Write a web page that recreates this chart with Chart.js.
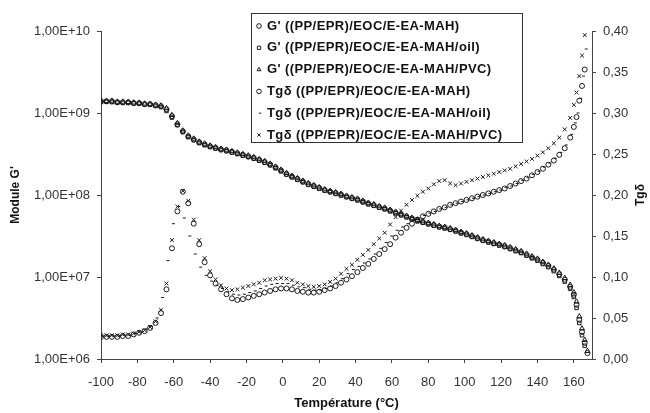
<!DOCTYPE html>
<html>
<head>
<meta charset="utf-8">
<script src="https://cdn.jsdelivr.net/npm/chart.js@4.4.0/dist/chart.umd.min.js"></script>
<style>
  html, body { margin: 0; padding: 0; background: #fff; }
  #wrap { width: 650px; height: 413px; }
</style>
</head>
<body>
<div id="wrap"><canvas id="dma" width="650" height="413"></canvas></div>
<script>
// temperature (°C) of each measurement point
const temps = [
  -100, -97, -94, -91, -88, -85, -82, -79, -76, -73,
  -70, -67, -64, -61, -58, -55, -52, -49, -46, -43,
  -40, -37, -34, -31, -28, -25, -22, -19, -16, -13,
  -10, -7, -4, -1, 2, 5, 8, 11, 14, 17,
  20, 23, 26, 29, 32, 35, 38, 41, 44, 47,
  50, 53, 56, 59, 62, 65, 68, 71, 74, 77,
  80, 83, 86, 89, 92, 95, 98, 101, 104, 107,
  110, 113, 116, 119, 122, 125, 128, 131, 134, 137,
  140, 143, 146, 149, 152, 155, 158, 160, 161.5, 163,
  164.5, 166, 167.5
];

// storage modulus G' (Pa), left log axis
const gPP = [
  1.39e9, 1.39e9, 1.39e9, 1.35e9, 1.35e9, 1.35e9, 1.32e9, 1.32e9, 1.28e9, 1.28e9,
  1.24e9, 1.21e9, 1.11e9, 9.13e8, 7.29e8, 5.98e8, 5.19e8, 4.77e8, 4.39e8, 4.15e8,
  3.92e8, 3.76e8, 3.60e8, 3.50e8, 3.36e8, 3.22e8, 3.09e8, 2.96e8, 2.84e8, 2.68e8,
  2.53e8, 2.36e8, 2.17e8, 1.99e8, 1.81e8, 1.68e8, 1.57e8, 1.46e8, 1.36e8, 1.29e8,
  1.22e8, 1.15e8, 1.10e8, 1.06e8, 1.01e8, 9.59e7, 9.19e7, 8.81e7, 8.33e7, 7.87e7,
  7.55e7, 7.13e7, 6.84e7, 6.46e7, 6.11e7, 5.78e7, 5.46e7, 5.16e7, 4.88e7, 4.68e7,
  4.48e7, 4.30e7, 4.12e7, 4.00e7, 3.84e7, 3.68e7, 3.48e7, 3.33e7, 3.15e7, 2.98e7,
  2.82e7, 2.70e7, 2.59e7, 2.48e7, 2.38e7, 2.25e7, 2.12e7, 2.01e7, 1.87e7, 1.74e7,
  1.63e7, 1.49e7, 1.37e7, 1.23e7, 1.08e7, 9.26e6, 7.60e6, 6.07e6, 4.58e6, 3.00e6,
  2.14e6, 1.57e6, 1.18e6
];
const gOil = [
  1.36e9, 1.37e9, 1.36e9, 1.34e9, 1.33e9, 1.33e9, 1.31e9, 1.30e9, 1.27e9, 1.26e9,
  1.22e9, 1.18e9, 1.06e9, 8.80e8, 7.10e8, 5.85e8, 5.08e8, 4.66e8, 4.30e8, 4.05e8,
  3.85e8, 3.68e8, 3.53e8, 3.42e8, 3.29e8, 3.16e8, 3.02e8, 2.90e8, 2.77e8, 2.62e8,
  2.47e8, 2.30e8, 2.12e8, 1.94e8, 1.77e8, 1.64e8, 1.53e8, 1.43e8, 1.33e8, 1.26e8,
  1.19e8, 1.13e8, 1.08e8, 1.03e8, 9.85e7, 9.40e7, 8.98e7, 8.60e7, 8.14e7, 7.70e7,
  7.38e7, 6.98e7, 6.69e7, 6.32e7, 5.98e7, 5.65e7, 5.34e7, 5.05e7, 4.78e7, 4.58e7,
  4.39e7, 4.21e7, 4.03e7, 3.91e7, 3.76e7, 3.60e7, 3.40e7, 3.26e7, 3.08e7, 2.92e7,
  2.76e7, 2.64e7, 2.53e7, 2.42e7, 2.32e7, 2.19e7, 2.07e7, 1.96e7, 1.82e7, 1.69e7,
  1.58e7, 1.44e7, 1.32e7, 1.18e7, 1.03e7, 8.80e6, 7.20e6, 5.70e6, 4.20e6, 2.75e6,
  1.95e6, 1.45e6, null
];
const gPVC = [
  1.41e9, 1.40e9, 1.41e9, 1.37e9, 1.37e9, 1.36e9, 1.34e9, 1.33e9, 1.30e9, 1.29e9,
  1.26e9, 1.23e9, 1.14e9, 9.40e8, 7.50e8, 6.10e8, 5.28e8, 4.86e8, 4.47e8, 4.22e8,
  3.99e8, 3.83e8, 3.66e8, 3.56e8, 3.42e8, 3.28e8, 3.15e8, 3.02e8, 2.89e8, 2.73e8,
  2.58e8, 2.40e8, 2.21e8, 2.03e8, 1.85e8, 1.71e8, 1.60e8, 1.49e8, 1.39e8, 1.31e8,
  1.24e8, 1.17e8, 1.12e8, 1.08e8, 1.03e8, 9.78e7, 9.37e7, 8.99e7, 8.50e7, 8.03e7,
  7.70e7, 7.27e7, 6.98e7, 6.59e7, 6.23e7, 5.90e7, 5.57e7, 5.26e7, 4.98e7, 4.77e7,
  4.57e7, 4.39e7, 4.20e7, 4.08e7, 3.92e7, 3.75e7, 3.55e7, 3.40e7, 3.21e7, 3.04e7,
  2.88e7, 2.75e7, 2.64e7, 2.53e7, 2.43e7, 2.30e7, 2.17e7, 2.06e7, 1.92e7, 1.78e7,
  1.67e7, 1.53e7, 1.41e7, 1.27e7, 1.12e7, 9.70e6, 8.00e6, 6.50e6, 5.00e6, 3.30e6,
  2.35e6, 1.70e6, 1.25e6
];

// loss factor tan delta, right axis
const tanPP = [
  0.027, 0.027, 0.027, 0.027, 0.028, 0.028, 0.030, 0.032, 0.034, 0.038,
  0.044, 0.056, 0.085, 0.135, 0.180, 0.204, 0.190, 0.165, 0.140, 0.118,
  0.102, 0.092, 0.085, 0.079, 0.074, 0.072, 0.073, 0.075, 0.077, 0.079,
  0.081, 0.083, 0.085, 0.086, 0.086, 0.085, 0.083, 0.082, 0.081, 0.081,
  0.082, 0.084, 0.086, 0.089, 0.093, 0.097, 0.101, 0.106, 0.111, 0.116,
  0.122, 0.128, 0.134, 0.140, 0.148, 0.154, 0.160, 0.165, 0.170, 0.174,
  0.177, 0.180, 0.183, 0.185, 0.188, 0.190, 0.192, 0.194, 0.196, 0.198,
  0.200, 0.202, 0.204, 0.206, 0.208, 0.211, 0.214, 0.217, 0.220, 0.224,
  0.228, 0.232, 0.237, 0.242, 0.249, 0.257, 0.270, 0.283, 0.295, 0.315,
  0.333, 0.353, null
];
const tanOil = [
  0.028, 0.028, 0.028, 0.028, 0.029, 0.029, 0.031, 0.033, 0.036, 0.040,
  0.050, 0.075, 0.120, 0.165, 0.186, 0.172, 0.150, 0.128, 0.112, 0.102,
  0.095, 0.090, 0.086, 0.082, 0.079, 0.078, 0.079, 0.081, 0.083, 0.086,
  0.089, 0.091, 0.092, 0.092, 0.092, 0.090, 0.088, 0.087, 0.085, 0.084,
  0.084, 0.086, 0.089, 0.093, 0.098, 0.104, 0.109, 0.113, 0.117, 0.122,
  0.128, 0.135, 0.142, 0.150, 0.157, 0.161, 0.165, 0.169, 0.172, 0.175,
  0.178, 0.180, 0.183, 0.185, 0.188, 0.190, 0.192, 0.194, 0.196, 0.198,
  0.200, 0.202, 0.204, 0.206, 0.209, 0.211, 0.214, 0.218, 0.221, 0.225,
  0.229, 0.234, 0.239, 0.245, 0.252, 0.261, 0.274, 0.288, 0.300, 0.318,
  0.345, 0.378, null
];
const tanPVC = [
  0.029, 0.029, 0.029, 0.029, 0.030, 0.030, 0.031, 0.033, 0.035, 0.039,
  0.046, 0.060, 0.092, 0.145, 0.186, 0.205, 0.193, 0.170, 0.145, 0.123,
  0.107, 0.097, 0.090, 0.086, 0.084, 0.085, 0.087, 0.089, 0.091, 0.093,
  0.096, 0.097, 0.098, 0.099, 0.098, 0.096, 0.093, 0.091, 0.089, 0.088,
  0.089, 0.091, 0.094, 0.098, 0.104, 0.110, 0.115, 0.121, 0.127, 0.133,
  0.140, 0.147, 0.154, 0.164, 0.173, 0.181, 0.188, 0.194, 0.199, 0.204,
  0.208, 0.213, 0.217, 0.218, 0.214, 0.212, 0.214, 0.216, 0.218, 0.220,
  0.222, 0.224, 0.226, 0.228, 0.230, 0.232, 0.235, 0.238, 0.241, 0.244,
  0.248, 0.252, 0.257, 0.263, 0.270, 0.280, 0.294, 0.310, 0.325, 0.345,
  0.370, 0.395, null
];

const seriesLabels = [
  "G' ((PP/EPR)/EOC/E-EA-MAH)",
  "G' ((PP/EPR)/EOC/E-EA-MAH/oil)",
  "G' ((PP/EPR)/EOC/E-EA-MAH/PVC)",
  "Tgδ ((PP/EPR)/EOC/E-EA-MAH)",
  "Tgδ ((PP/EPR)/EOC/E-EA-MAH/oil)",
  "Tgδ ((PP/EPR)/EOC/E-EA-MAH/PVC)"
];
const tempTicks = [-100, -80, -60, -40, -20, 0, 20, 40, 60, 80, 100, 120, 140, 160];
const gTicks = [1e6, 1e7, 1e8, 1e9, 1e10];
const tanTicks = [0, 0.05, 0.10, 0.15, 0.20, 0.25, 0.30, 0.35, 0.40];

const FONT = '"Liberation Sans", Arial, sans-serif';
const INK = '#1a1a1a';

function points(values) {
  return temps.map((t, i) => ({ x: t, y: values[i] })).filter(p => p.y != null);
}

function series(label, values, axis, style, radius) {
  return {
    label: label,
    data: points(values),
    yAxisID: axis,
    pointStyle: style,
    pointRadius: radius,
    pointBorderWidth: 1,
    pointBorderColor: INK,
    pointBackgroundColor: 'rgba(0,0,0,0)',
    showLine: false
  };
}

// Excel-like legend box sitting over the top of the plot
const legendBox = {
  id: 'legendBox',
  afterDraw(chart) {
    const ctx = chart.ctx;
    ctx.save();
    ctx.fillStyle = '#fff';
    ctx.fillRect(251, 13, 271, 129);
    ctx.strokeStyle = '#333';
    ctx.lineWidth = 1;
    ctx.strokeRect(251.5, 13.5, 271, 129);
    ctx.textBaseline = 'middle';
    ctx.font = 'bold 13px ' + FONT;
    if ('letterSpacing' in ctx) ctx.letterSpacing = '0.4px';
    chart.data.datasets.forEach((ds, i) => {
      const y = 26 + i * 21.8;
      ctx.fillStyle = 'rgba(0,0,0,0)';
      ctx.strokeStyle = INK;
      ctx.lineWidth = 1;
      Chart.helpers.drawPoint(ctx, { pointStyle: ds.pointStyle, radius: 2.3, borderWidth: 1, rotation: 0 }, 259, y);
      ctx.fillStyle = '#111';
      ctx.fillText(ds.label, 267, y);
    });
    ctx.restore();
  }
};

// secondary axis title, read bottom to top like the primary one
const rightTitle = {
  id: 'rightTitle',
  afterDraw(chart) {
    const ctx = chart.ctx;
    ctx.save();
    ctx.translate(641, 195);
    ctx.rotate(-Math.PI / 2);
    ctx.font = 'bold 12px ' + FONT;
    ctx.fillStyle = '#111';
    ctx.textAlign = 'center';
    ctx.textBaseline = 'middle';
    ctx.fillText('Tgδ', 0, 0);
    ctx.restore();
  }
};

new Chart(document.getElementById('dma'), {
  type: 'scatter',
  data: {
    datasets: [
      series(seriesLabels[0], gPP, 'g', 'circle', 2.5),
      series(seriesLabels[1], gOil, 'g', 'rect', 2.5),
      series(seriesLabels[2], gPVC, 'g', 'triangle', 2.9),
      series(seriesLabels[3], tanPP, 'tan', 'circle', 2.5),
      series(seriesLabels[4], tanOil, 'tan', 'dash', 3),
      series(seriesLabels[5], tanPVC, 'tan', 'crossRot', 2.7)
    ]
  },
  options: {
    responsive: false,
    animation: false,
    layout: { padding: { top: 31, left: 0, right: 0, bottom: 0 } },
    plugins: {
      legend: { display: false },
      tooltip: { enabled: false }
    },
    scales: {
      x: {
        type: 'linear',
        position: 'bottom',
        min: -100,
        max: 170,
        afterFit: s => { s.height = 54; },
        afterBuildTicks: s => { s.ticks = tempTicks.map(v => ({ value: v })); },
        border: { color: '#444', width: 1 },
        grid: { drawOnChartArea: false, tickLength: 4, color: '#444' },
        ticks: { font: { family: FONT, size: 13 }, color: '#333', padding: 12, maxRotation: 0, autoSkip: false },
        title: { display: true, text: 'Température (°C)', font: { family: FONT, size: 13, weight: 'bold' }, color: '#111', padding: { top: 0, bottom: 2 } }
      },
      g: {
        type: 'logarithmic',
        position: 'left',
        min: 1e6,
        max: 1e10,
        afterFit: s => { s.width = 101; },
        afterBuildTicks: s => { s.ticks = gTicks.map(v => ({ value: v })); },
        border: { color: '#444', width: 1 },
        grid: { drawOnChartArea: false, tickLength: 4, color: '#444' },
        ticks: {
          font: { family: FONT, size: 13 },
          color: '#333',
          padding: 7,
          callback: v => '1,00E+' + String(Math.round(Math.log10(v))).padStart(2, '0')
        },
        title: { display: true, text: "Module G'", font: { family: FONT, size: 12, weight: 'bold' }, color: '#111', padding: { top: 8, bottom: 0 } }
      },
      tan: {
        type: 'linear',
        position: 'right',
        min: 0,
        max: 0.4,
        afterFit: s => { s.width = 58; },
        afterBuildTicks: s => { s.ticks = tanTicks.map(v => ({ value: v })); },
        border: { color: '#444', width: 1 },
        grid: { drawOnChartArea: false, tickLength: 4, color: '#444' },
        ticks: {
          font: { family: FONT, size: 13 },
          color: '#333',
          padding: 7,
          callback: v => v.toFixed(2).replace('.', ',')
        }
      }
    }
  },
  plugins: [legendBox, rightTitle]
});
</script>
</body>
</html>
